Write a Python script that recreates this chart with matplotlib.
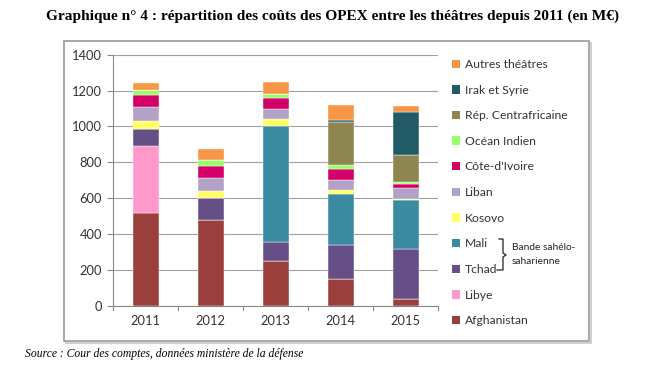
import matplotlib
matplotlib.use("Agg")
import matplotlib.pyplot as plt
from matplotlib.patches import Rectangle, Patch
from matplotlib.lines import Line2D
import numpy as np

years = ["2011", "2012", "2013", "2014", "2015"]
series_names = ["Afghanistan", "Libye", "Tchad", "Mali", "Kosovo", "Liban",
                "Côte-d'Ivoire", "Océan Indien", "Rép. Centrafricaine",
                "Irak et Syrie", "Autres théâtres"]
afghanistan = [517, 480, 251, 149, 35]
libye = [373, 0, 0, 0, 0]
tchad = [93, 119, 106, 189, 279]
mali = [0, 0, 647, 285, 275]
kosovo = [47, 41, 35, 20, 6]
liban = [80, 74, 56, 58, 63]
cote_ivoire = [65, 65, 61, 63, 22]
ocean_indien = [28, 33, 23, 19, 8]
rca = [0, 0, 0, 239, 154]
irak_syrie = [0, 0, 0, 15, 236]
autres = [41, 64, 70, 84, 34]
yticks = [0, 200, 400, 600, 800, 1000, 1200, 1400]

series_values = [afghanistan, libye, tchad, mali, kosovo, liban, cote_ivoire,
                 ocean_indien, rca, irak_syrie, autres]
colors = ["#9B3F3C", "#FF99CC", "#664F87", "#3A8BA0", "#FFFF66", "#B3A2C7",
          "#D20068", "#99FF66", "#8E8650", "#225A68", "#F79646"]

W, H = 651, 373
fig = plt.figure(figsize=(W / 100, H / 100), dpi=100)
fig.patch.set_facecolor("white")

# outer frame (with faint shadow)
fig.patches.append(Rectangle((66 / W, 1 - 343 / H), 525 / W, 300 / H,
                             transform=fig.transFigure, fill=False,
                             edgecolor="#D0D0D0", linewidth=1.5, zorder=-2))
fig.patches.append(Rectangle((64 / W, 1 - 341 / H), 525 / W, 300 / H,
                             transform=fig.transFigure, facecolor="white",
                             edgecolor="#9A9A9A", linewidth=1.2, zorder=-1))

ax = fig.add_axes([113 / W, 1 - 305.7 / H, 325 / W, 251 / H])
ax.set_facecolor("none")
x = np.arange(len(years))
bottom = np.zeros(len(years))
for name, vals, c in zip(series_names, series_values, colors):
    v = np.array(vals, dtype=float)
    ax.bar(x, v, width=0.4, bottom=bottom, color=c, label=name,
           edgecolor="white", linewidth=0.3, zorder=3)
    bottom += v

ax.set_xlim(-0.5, len(years) - 0.5)
ax.set_ylim(0, 1400)
ax.set_yticks(yticks)
ax.set_yticklabels([str(t) for t in yticks], fontsize=9.3, family="Lato",
                   color="#333333")
ax.set_xticks(x)
ax.set_xticklabels(years, fontsize=9.3, family="Lato", color="#333333")
ax.tick_params(axis="x", length=0, pad=7)
ax.tick_params(axis="y", length=4, color="#888888", pad=4, width=0.8)
for b in np.arange(-0.5, len(years), 1.0):
    ax.plot([b, b], [0, -25], color="#888888", lw=0.8, clip_on=False, zorder=4)
ax.grid(axis="y", color="#A0A0A0", lw=0.8, zorder=0)
for s in ["top", "right"]:
    ax.spines[s].set_visible(False)
ax.spines["left"].set_color("#888888")
ax.spines["bottom"].set_color("#888888")
ax.spines["left"].set_linewidth(0.8)
ax.spines["bottom"].set_linewidth(0.8)

handles = [Patch(facecolor=c, edgecolor="none") for c in colors][::-1]
labels = series_names[::-1]
leg = fig.legend(handles, labels, loc="upper left",
                 bbox_to_anchor=(452 / W, 1 - 59 / H), frameon=False,
                 prop={"family": "Lato", "size": 8.7}, handlelength=0.7,
                 handleheight=0.7, handletextpad=0.35, labelspacing=1.21,
                 borderaxespad=0, borderpad=0)
for t in leg.get_texts():
    t.set_color("#333333")

# brace for Mali / Tchad
bx = [499, 503, 503, 506, 503, 503, 497]
by = [239, 239, 253, 255, 257, 270, 270]
fig.add_artist(Line2D([v / W for v in bx], [1 - v / H for v in by],
                      transform=fig.transFigure, color="#222222", lw=0.9))
fig.text(512 / W, 1 - 248 / H, "Bande sahélo-", fontsize=7.3, family="Lato",
         va="center", ha="left", color="#222222")
fig.text(512 / W, 1 - 261 / H, "saharienne", fontsize=7.3, family="Lato",
         va="center", ha="left", color="#222222")

fig.text(0.51, 1 - 16 / H,
         "Graphique n° 4 : répartition des coûts des OPEX entre les théâtres depuis 2011 (en M€)",
         ha="center", va="center", fontsize=11.1, fontweight="bold",
         family="Liberation Serif")
fig.text(25 / W, 1 - 354 / H,
         "Source : Cour des comptes, données ministère de la défense",
         ha="left", va="center", fontsize=8.4, style="italic",
         family="Liberation Serif")

fig.savefig("out.png", dpi=100, facecolor="white")
